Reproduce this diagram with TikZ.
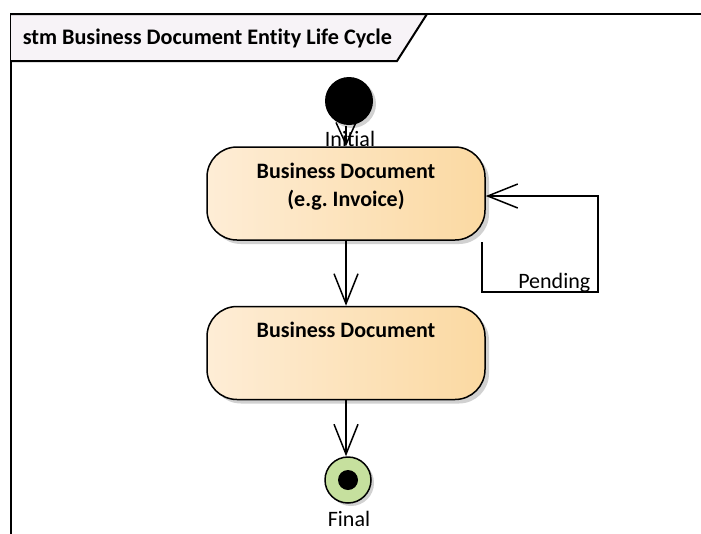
\documentclass[tikz,border=0pt]{standalone}
\usepackage{fontspec}
\setmainfont{Carlito}[Ligatures=CommonOff]
\usetikzlibrary{arrows.meta,shadows}
\definecolor{tabfill}{HTML}{F7F3F7}
\definecolor{stleft}{HTML}{FEEDD6}
\definecolor{stright}{HTML}{FBD9A2}
\definecolor{finfill}{HTML}{C6E09E}
\frenchspacing
\begin{document}
\begin{tikzpicture}[x=1pt,y=-1pt,
  line width=1.5pt,
  statebox/.style={draw, line width=1.5pt, rounded corners=30pt, minimum width=278pt, minimum height=93pt,
    left color=stleft, right color=stright,
    drop shadow={shadow xshift=4pt, shadow yshift=-4pt, fill=black!18, opacity=1}},
  statetext/.style={font=\fontsize{22}{24}\selectfont\bfseries, inner sep=0pt},
  lbl/.style={font=\fontsize{22}{24}\selectfont, inner sep=0pt},
  vee/.style={-{Straight Barb[length=30pt,width=24pt,line width=1.5pt]}},
  vees/.style={-{Straight Barb[length=22pt,width=20pt,line width=1.5pt]}}
]
\useasboundingbox (0,0) rectangle (701,533);
\fill[white] (0,0) rectangle (701,533);
% frame
\draw[line width=2pt] (701,14) -- (11,14) -- (11,534);
\filldraw[fill=tabfill, line width=2pt] (11,14) -- (427,14) -- (397,61) -- (11,61);
\node[anchor=west, font=\fontsize{22.2}{26}\selectfont\bfseries, inner sep=0pt] (title) at (22,38) {stm Business Document Entity Life Cycle};
% initial
\node[circle, fill=black, minimum size=48pt, inner sep=0pt,
  drop shadow={shadow xshift=3pt, shadow yshift=-3pt, fill=black!18, opacity=1}] (init) at (349,101) {};
% states
\node[statebox] (s1) at (346,193.5) {};
\node[statetext] (s1a) at (346,171) {Business Document};
\node[statetext] (s1b) at (346,200) {(e.g. Invoice)};
\node[statebox] (s2) at (346,353) {};
\node[statetext] (s2a) at (346,330) {Business Document};
% final
\node[circle, draw, fill=finfill, minimum size=46pt, inner sep=0pt, line width=1.5pt,
  drop shadow={shadow xshift=3pt, shadow yshift=-3pt, fill=black!18, opacity=1}] (fin) at (348,480) {};
\node[circle, fill=black, minimum size=20pt, inner sep=0pt] (findot) at (fin.center) {};
% labels
\node[lbl] (initl) at (350,139) {Initial};
\node[lbl] (finl) at (349,519) {Final};
% transitions
\draw[vees] (s1.north |- init.south) -- (s1.north);
\draw[vee] (s1.south) -- (s2.north);
\draw[vee] (s2.south) -- (s2.south |- fin.north);
\coordinate (lp1) at (482,242);
\coordinate (lp2) at (598,292);
\coordinate (lp3) at (598,196);
\coordinate (lp4) at (s1.east |- lp3);
\draw[vee] (lp1) |- (lp2) -- (lp3) -- (lp4);
\node[lbl, anchor=east] (pend) at (591,283) {Pending};
\end{tikzpicture}
\end{document}
